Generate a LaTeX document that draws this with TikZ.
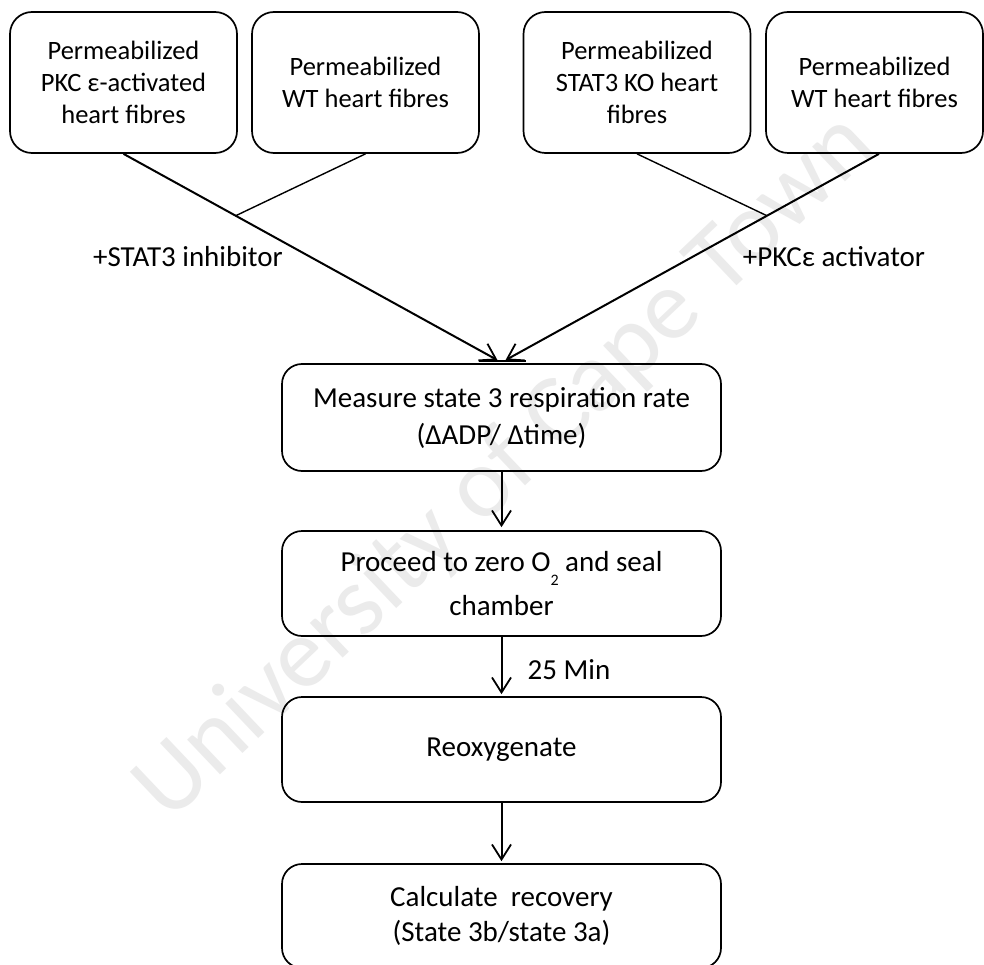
\documentclass[tikz,border=0pt]{standalone}
\usepackage{fontspec}
\setmainfont{Carlito}
\usetikzlibrary{arrows.meta,calc}
\begin{document}
\begin{tikzpicture}[x=1pt,y=-1pt,
  topbox/.style={draw, line width=1.7pt, rounded corners=22pt, minimum width=227pt, minimum height=141pt, align=center, inner sep=0pt, font=\fontsize{26.5}{32}\selectfont},
  flowbox/.style={draw, line width=1.7pt, rounded corners=20pt, minimum width=439pt, align=center, inner sep=0pt, font=\fontsize{29}{37}\selectfont},
  lbl/.style={font=\fontsize{29}{35}\selectfont, inner sep=0pt},
  arr/.style={line width=2pt, -{Straight Barb[length=15pt,width=19pt,line width=1.8pt]}},
  branch/.style={line width=1.4pt},
  wmark/.style={font=\fontsize{100}{100}\selectfont, text=black!8, rotate=43.5, inner sep=0pt}]
\useasboundingbox (0,0) rectangle (984,965);
\fill[white] (0,0) rectangle (984,965);
\node[wmark] (wm) at (506,468) {University of Cape Town};

\node[topbox] (b1) at (123.5,82.5) {Permeabilized\\PKC ε-activated\\heart fibres};
\node[topbox] (b2) at (365.5,82.5) {Permeabilized\\WT heart fibres};
\node[topbox] (b3) at (637,82.5) {Permeabilized\\STAT3 KO heart\\fibres};
\node[topbox, minimum width=217pt] (b4) at (874.5,82.5) {Permeabilized\\WT heart fibres};

\node[flowbox, minimum height=107pt] (m) at (501.5,417.5) {Measure state 3 respiration rate\\(ΔADP/ Δtime)};
\node[flowbox, minimum height=105pt, font=\fontsize{29}{44}\selectfont] (p) at (501.5,583.5) {Proceed to zero O\smash{\raisebox{-14pt}{\fontsize{16}{16}\selectfont 2}} and seal\\chamber};
\node[flowbox, minimum height=105pt] (r) at (501.5,749.5) {Reoxygenate};
\node[flowbox, minimum height=104pt, font=\fontsize{29}{35}\selectfont] (c) at (501.5,916) {Calculate~ recovery\\(State 3b/state 3a)};

\coordinate (mL) at ($(m.north)+(-4,-3)$);
\coordinate (mR) at ($(m.north)+(4,-3)$);
\coordinate (b4s) at ($(b4.south)+(4.5,0)$);
\coordinate (j1) at ($(b1.south)!0.3!(mL)$);
\coordinate (j2) at ($(b4s)!0.3!(mR)$);

\draw[arr] (b1.south) -- (mL);
\draw[arr] (b4s) -- (mR);
\draw[branch] (b2.south) -- (j1);
\draw[branch] (b3.south) -- (j2);
\draw[line width=1.4pt] ($(m.north)+(-23,-2)$) -- ($(m.north)+(24,-2)$);

\draw[arr, shorten >=3pt] (m) -- (p);
\draw[arr, shorten >=2pt] (p) -- (r);
\draw[arr, shorten >=2pt] (r) -- (c);

\node[lbl] (l1) at (188,257) {+STAT3 inhibitor};
\node[lbl] (l2) at (834,257) {+PKCε activator};
\node[lbl] (l3) at (569,670) {25 Min};
\end{tikzpicture}
\end{document}
